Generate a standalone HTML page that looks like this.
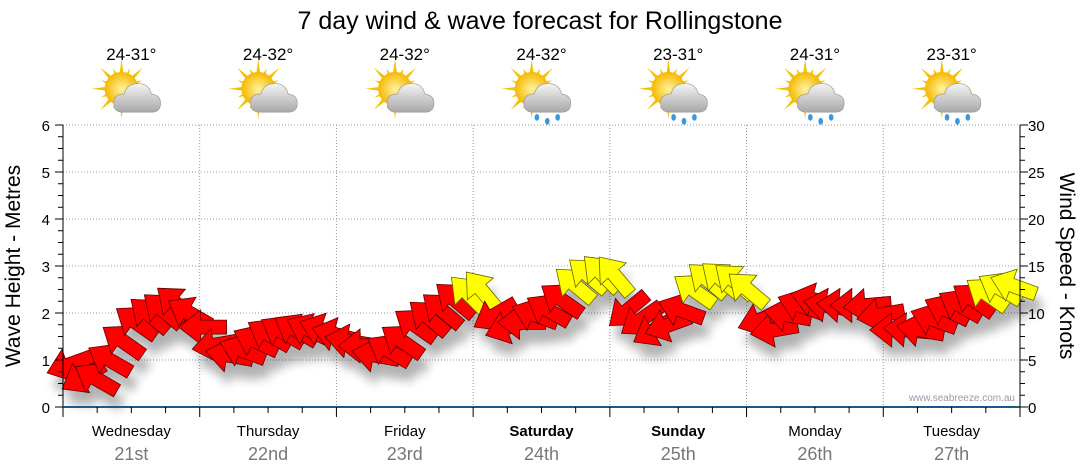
<!DOCTYPE html>
<html><head><meta charset="utf-8">
<style>
html,body{margin:0;padding:0;background:#fff;}
svg{display:block;font-family:"Liberation Sans",sans-serif;}
</style></head>
<body>
<svg id="chart" width="1080" height="475" viewBox="0 0 1080 475">
<defs>
<filter id="sh" x="-50%" y="-50%" width="200%" height="200%"><feGaussianBlur stdDeviation="5"/></filter>
<radialGradient id="sun" cx="50%" cy="50%" r="50%"><stop offset="0" stop-color="#fff3a0"/><stop offset="1" stop-color="#f5b800"/></radialGradient>
<linearGradient id="cloud" x1="0" y1="0" x2="0" y2="1"><stop offset="0" stop-color="#f4f4f4"/><stop offset="1" stop-color="#a8a8a8"/></linearGradient>
</defs>
<text x="540" y="29" text-anchor="middle" font-size="25" fill="#000">7 day wind &amp; wave forecast for Rollingstone</text>
<g id="grid"></g>
<g id="shadows" filter="url(#sh)" opacity="0.3"></g>
<g id="arrows"></g>
<g id="axes"></g>
<g id="icons"></g>
<text x="20" y="266" transform="rotate(-90 20 266)" text-anchor="middle" font-size="21">Wave Height - Metres</text>
<text x="1060" y="266" transform="rotate(90 1060 266)" text-anchor="middle" font-size="21">Wind Speed - Knots</text>
<text x="1015" y="401" text-anchor="end" font-size="10" fill="#99a">www.seabreeze.com.au</text>
</svg>
<script>
const days = ["Wednesday","Thursday","Friday","Saturday","Sunday","Monday","Tuesday"];
const dates = ["21st","22nd","23rd","24th","25th","26th","27th"];
const temps = ["24-31°","24-32°","24-32°","24-32°","23-31°","24-31°","23-31°"];
const rainy = [false,false,false,true,true,true,true];
const boldDays = [false,false,false,true,true,false,false];
const waveTicks = [0,1,2,3,4,5,6];
const windTicks = [0,5,10,15,20,25,30];
const windSpeed = [
 4.5,3.2,3.0,5.0,7.0,9.0,9.8,10.3,11.0,10.0,8.5,
 6.6,5.5,6.0,7.0,7.7,8.0,8.2,8.2,8.2,7.7,7.0,
 6.5,5.5,6.0,7.0,8.7,9.5,10.3,11.4,12.0,12.4,
 9.8,8.5,9.0,9.8,10.3,11.4,13.0,14.0,14.2,14.0,
 10.3,9.3,8.2,8.7,10.3,12.4,13.5,13.6,13.4,12.5,
 9.3,8.2,9.8,10.8,11.4,10.8,10.8,10.8,10.8,9.8,
 8.2,8.2,8.2,9.3,10.3,10.8,11.4,12.0,12.6,12.9
];
const windDir = [
 200,210,150,150,145,145,140,140,140,150,180,
 190,170,160,155,150,150,150,155,160,165,170,
 180,170,150,145,145,140,140,140,135,130,
 210,200,180,160,150,145,140,140,135,130,
 220,215,210,200,160,145,140,140,140,140,
 200,190,170,160,165,170,175,180,185,190,
 180,175,170,160,155,150,145,145,150,160
];

const svg=document.getElementById('chart');
const NS='http://www.w3.org/2000/svg';
const X0=63,X1=1020,Y0=407,Y1=125;
const dayW=(X1-X0)/days.length;
function yWave(m){return Y0-(m/6)*(Y0-Y1);}
function yWind(k){return Y0-(k/30)*(Y0-Y1);}
function xTime(i,n){return X0+(i+0.5)*(X1-X0)/n;}
function mk(tag,attrs,parent){const e=document.createElementNS(NS,tag);for(const k in attrs)e.setAttribute(k,attrs[k]);parent.appendChild(e);return e;}

const grid=document.getElementById('grid'),axes=document.getElementById('axes');
waveTicks.forEach(v=>{
 const y=yWave(v);
 if(v>0){const l=mk('line',{x1:X0,x2:X1,y1:y,y2:y,stroke:'#999','stroke-dasharray':'1,2'},grid);
 }
 const t=mk('text',{x:50,y:y+6,'text-anchor':'end','font-size':15},axes);t.textContent=v;
 
});
windTicks.forEach(v=>{
 const t=mk('text',{x:1028,y:yWind(v)+6,'font-size':15},axes);t.textContent=v;
 
});
for(let m=0;m<=24;m++){const y=Y0-m*(Y0-Y1)/24;
 mk('line',{x1:X0-(m%4==0?8:5),x2:X0,y1:y,y2:y,stroke:'#000'},axes);
 mk('line',{x1:X1,x2:X1+(m%4==0?8:5),y1:y,y2:y,stroke:'#000'},axes);}
mk('line',{x1:X0,x2:X0,y1:Y1,y2:Y0,stroke:'#000'},axes);
mk('line',{x1:X1,x2:X1,y1:Y1,y2:Y0,stroke:'#000'},axes);
mk('line',{x1:X0,x2:X1,y1:Y0,y2:Y0,stroke:'#1a5a8a','stroke-width':2},axes);
for(let q=0;q<=days.length*4;q++){const x=X0+q*dayW/4;
 mk('line',{x1:x,x2:x,y1:Y0,y2:Y0+(q%4==0?10:6),stroke:'#000'},axes);}
days.forEach((d,i)=>{
 const cx=X0+(i+0.5)*dayW;
 if(i>0){const l=mk('line',{x1:X0+i*dayW,x2:X0+i*dayW,y1:Y1,y2:Y0,stroke:'#999','stroke-dasharray':'1,2'},grid);
 }
 const t=mk('text',{x:cx,y:436,'text-anchor':'middle','font-size':15,'font-weight':boldDays[i]?'bold':'normal'},axes);t.textContent=d;
 
 const t2=mk('text',{x:cx,y:460,'text-anchor':'middle','font-size':18,fill:'#777'},axes);t2.textContent=dates[i];
 
 const t3=mk('text',{x:cx,y:60,'text-anchor':'middle','font-size':17},axes);t3.textContent=temps[i];
 
 const ic=mk('g',{transform:'translate('+(cx-2)+',94) scale(1.3)'},document.getElementById('icons'));
 
 for(let r=0;r<16;r++){const a=r*Math.PI/8,L=r%2?17:23;
  mk('polygon',{points:[(-6+Math.cos(a+0.25)*8).toFixed(1)+','+(-4+Math.sin(a+0.25)*8).toFixed(1),(-6+Math.cos(a)*L).toFixed(1)+','+(-4+Math.sin(a)*L).toFixed(1),(-6+Math.cos(a-0.25)*8).toFixed(1)+','+(-4+Math.sin(a-0.25)*8).toFixed(1)].join(' '),fill:'#f5c000'},ic);}
 mk('circle',{cx:-6,cy:-4,r:13,fill:'url(#sun)'},ic);
 mk('path',{d:'M-5,14 Q-12,14 -12,7 Q-12,0 -4,0 Q-2,-8 7,-8 Q15,-8 17,0 Q24,1 24,7 Q24,14 17,14 Z',fill:'url(#cloud)',stroke:'#999','stroke-width':0.5},ic);
 if(rainy[i]){[-4,4,12].forEach((dx,j)=>{mk('ellipse',{cx:dx+2,cy:18+(j%2)*3,rx:1.8,ry:2.6,fill:'#3a9ad9'},ic);});}
});

const arrows=document.getElementById('arrows'),shadows=document.getElementById('shadows');
const shape='M-24,0 L-2,-17 L-2,-7 L24,-7 L24,7 L-2,7 L-2,17 Z';
windSpeed.forEach((k,i)=>{
 const x=xTime(i,windSpeed.length),y=yWind(k);
 const rot=-(windDir[i]-180);
 const s=mk('path',{d:shape,fill:'#000',transform:'translate('+(x+5)+','+(y+14)+') rotate('+rot+')'},shadows);
 
 const a=mk('path',{d:shape,fill:k>=12?'#ffff00':'#ff0000',stroke:k>=12?'#666600':'#600000','stroke-width':0.8,transform:'translate('+x+','+y+') rotate('+rot+')'},arrows);
 
});
</script>
</body></html>
